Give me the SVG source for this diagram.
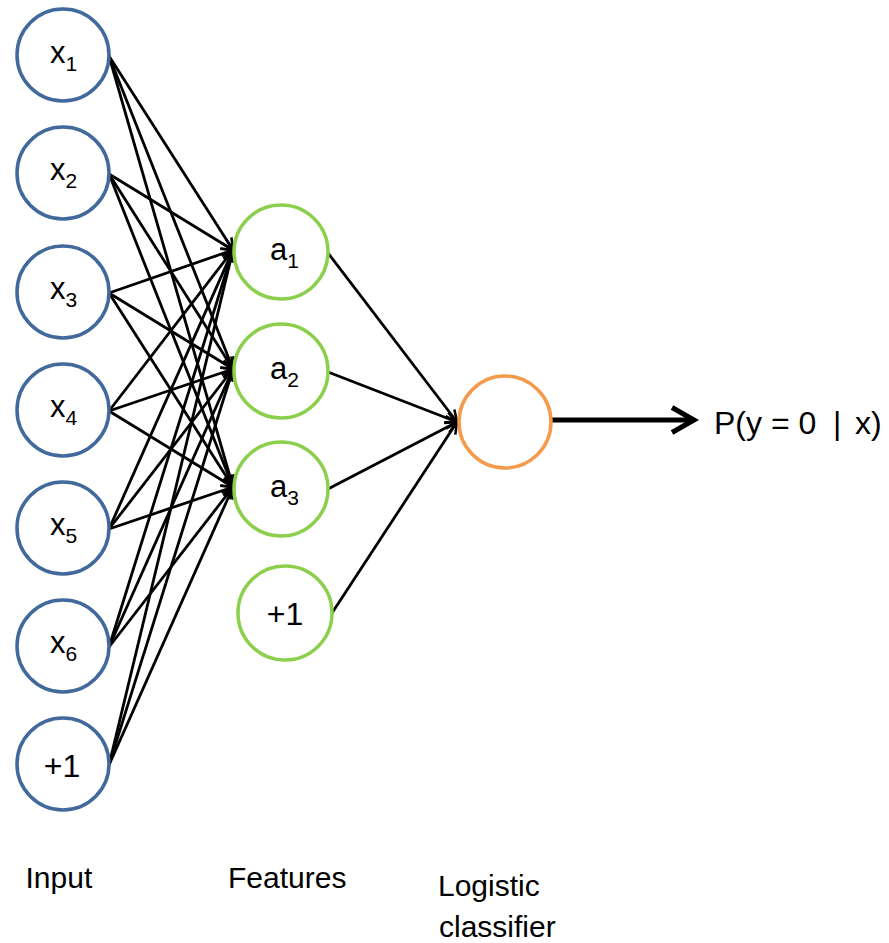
<svg xmlns="http://www.w3.org/2000/svg" width="889" height="943" viewBox="0 0 889 943">
  <style>
    text { font-family: "Liberation Sans", Arial, sans-serif; fill: #000; }
    .lbl { font-size: 31px; }
    .sub { font-size: 21px; }
    .one { font-size: 32px; }
    .cap { font-size: 30px; }
    .res { font-size: 32px; }
    .in circle { fill: #fff; stroke: #41699b; stroke-width: 3.5; }
    .feat circle { fill: #fff; stroke: #8ccf4d; stroke-width: 3.5; }
    .out circle { fill: #fff; stroke: #f49a4b; stroke-width: 3.5; }
    .edge line { stroke: #000; stroke-width: 2.8; fill: none; marker-end: url(#tip); }
  </style>
  <defs>
    <marker id="tip" viewBox="0 0 14 14" refX="13" refY="7" markerWidth="14" markerHeight="14" markerUnits="userSpaceOnUse" orient="auto">
      <path d="M1.5,1.5 L13,7 L1.5,12.5" fill="none" stroke="#000" stroke-width="2.6"/>
    </marker>
  </defs>

  <rect width="889" height="943" fill="#fff"/>

  <!-- connectors: input layer to hidden features, features to classifier -->
  <g id="connectors" class="edge">
    <line x1="109" y1="56" x2="233" y2="250"/>
    <line x1="109" y1="56" x2="233" y2="369"/>
    <line x1="109" y1="56" x2="233" y2="487"/>
    <line x1="109" y1="174" x2="233" y2="250"/>
    <line x1="109" y1="174" x2="233" y2="369"/>
    <line x1="109" y1="174" x2="233" y2="487"/>
    <line x1="109" y1="293" x2="233" y2="250"/>
    <line x1="109" y1="293" x2="233" y2="369"/>
    <line x1="109" y1="293" x2="233" y2="487"/>
    <line x1="109" y1="411" x2="233" y2="250"/>
    <line x1="109" y1="411" x2="233" y2="369"/>
    <line x1="109" y1="411" x2="233" y2="487"/>
    <line x1="109" y1="529" x2="233" y2="250"/>
    <line x1="109" y1="529" x2="233" y2="369"/>
    <line x1="109" y1="529" x2="233" y2="487"/>
    <line x1="109" y1="647" x2="233" y2="250"/>
    <line x1="109" y1="647" x2="233" y2="369"/>
    <line x1="109" y1="647" x2="233" y2="487"/>
    <line x1="109" y1="765" x2="233" y2="250"/>
    <line x1="109" y1="765" x2="233" y2="369"/>
    <line x1="109" y1="765" x2="233" y2="487"/>

    <line x1="328" y1="253" x2="457" y2="422"/>
    <line x1="328" y1="372" x2="457" y2="422"/>
    <line x1="328" y1="489" x2="457" y2="422"/>
    <line x1="332" y1="613" x2="457" y2="422"/>
  </g>

  <!-- classifier output arrow -->
  <g id="output-arrow">
    <line x1="552" y1="420" x2="692" y2="420" stroke="#000" stroke-width="5"/>
    <path d="M672,407.5 L694,420 L672,432.5" fill="none" stroke="#000" stroke-width="5" stroke-linejoin="miter"/>
  </g>

  <!-- input layer -->
  <g id="x1" class="in"><circle cx="63" cy="55" r="46"/>
    <text class="lbl" x="50" y="63">x<tspan class="sub" dy="8">1</tspan></text></g>
  <g id="x2" class="in"><circle cx="63" cy="173" r="46"/>
    <text class="lbl" x="50" y="180">x<tspan class="sub" dy="8">2</tspan></text></g>
  <g id="x3" class="in"><circle cx="63" cy="292" r="46"/>
    <text class="lbl" x="50" y="299">x<tspan class="sub" dy="8">3</tspan></text></g>
  <g id="x4" class="in"><circle cx="63" cy="410" r="46"/>
    <text class="lbl" x="50" y="417">x<tspan class="sub" dy="8">4</tspan></text></g>
  <g id="x5" class="in"><circle cx="63" cy="528" r="46"/>
    <text class="lbl" x="50" y="535">x<tspan class="sub" dy="8">5</tspan></text></g>
  <g id="x6" class="in"><circle cx="63" cy="646" r="46"/>
    <text class="lbl" x="50" y="653">x<tspan class="sub" dy="8">6</tspan></text></g>
  <g id="bias-in" class="in"><circle cx="63" cy="764" r="46"/>
    <text class="one" x="62" y="777" text-anchor="middle">+1</text></g>

  <!-- feature layer -->
  <g id="a1" class="feat"><circle cx="281" cy="252" r="47"/>
    <text class="lbl" x="270" y="260">a<tspan class="sub" dy="8">1</tspan></text></g>
  <g id="a2" class="feat"><circle cx="281" cy="371" r="47"/>
    <text class="lbl" x="270" y="379">a<tspan class="sub" dy="8">2</tspan></text></g>
  <g id="a3" class="feat"><circle cx="281" cy="489" r="47"/>
    <text class="lbl" x="270" y="497">a<tspan class="sub" dy="8">3</tspan></text></g>
  <g id="bias-feat" class="feat"><circle cx="285" cy="613" r="47"/>
    <text class="one" x="285" y="625" text-anchor="middle">+1</text></g>

  <!-- logistic classifier -->
  <g id="classifier" class="out"><circle cx="505" cy="422" r="46"/></g>

  <g id="output-label">
    <text class="res" y="434"><tspan x="714">P(y = 0</tspan><tspan x="833">|</tspan><tspan x="855">x)</tspan></text>
  </g>

  <!-- layer captions -->
  <g id="captions">
    <text class="cap" x="25.5" y="888">Input</text>
    <text class="cap" x="228" y="888">Features</text>
    <text class="cap" x="438" y="896">Logistic</text>
    <text class="cap" x="439" y="937">classifier</text>
  </g>
</svg>
